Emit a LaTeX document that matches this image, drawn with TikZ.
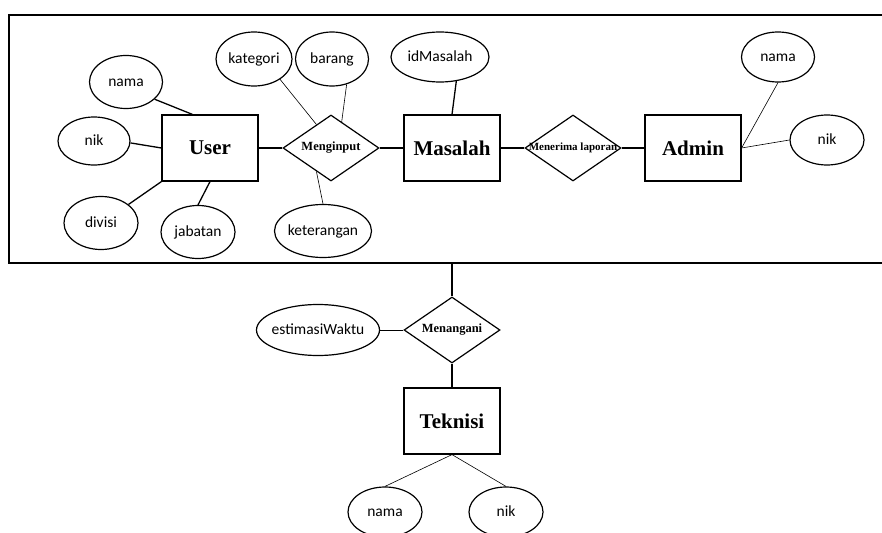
\documentclass[tikz,border=0pt]{standalone}
\usepackage{fontspec}
\setmainfont{Liberation Serif}
\newfontfamily\attrfont{Carlito}
\usetikzlibrary{shapes.geometric,calc}
\newcommand{\zw}[1]{\makebox[0pt]{#1}}

\begin{document}
\begin{tikzpicture}[x=1pt, y=-1pt,
    entity/.style={draw, line width=1.2pt, minimum width=96pt, minimum height=66pt, inner sep=0pt, font=\fontsize{21}{24}\selectfont\bfseries},
    relation/.style={draw, diamond, line width=1.2pt, minimum width=96pt, minimum height=66pt, inner sep=0pt, font=\fontsize{12.5}{14}\selectfont\bfseries},
    attr/.style={draw, ellipse, line width=1.2pt, inner sep=0pt, text height=12pt, text depth=3pt, font=\attrfont\fontsize{15.5}{18}\selectfont},
    strong/.style={line width=1.3pt},
    weak/.style={line width=0.6pt}]
    \useasboundingbox (0,0) rectangle (882,532);

    \draw[line width=1.2pt] (882,15) -- (9,15) -- (9,263) -- (882,263);
    \coordinate (boxbot) at (452,263);

    \node[entity] (user) at (210,148) {User};
    \node[entity] (masalah) at (452,148) {Masalah};
    \node[entity] (admin) at (693,148) {Admin};
    \node[entity] (teknisi) at (452,421) {Teknisi};

    \node[relation] (input) at (331,148) {\zw{Menginput}};
    \node[relation, font=\fontsize{11}{12}\selectfont\bfseries] (terima) at (573,148) {\zw{Menerima laporan}};
    \node[relation] (tangani) at (452,330) {\zw{Menangani}};

    \node[attr, minimum width=73pt, minimum height=53pt] (unama) at (126,82) {nama};
    \node[attr, minimum width=72pt, minimum height=48pt] (unik) at (94,141) {nik};
    \node[attr, minimum width=74pt, minimum height=53pt] (udivisi) at (101,223) {divisi};
    \node[attr, minimum width=74pt, minimum height=53pt] (ujabatan) at (198,232) {jabatan};
    \node[attr, minimum width=76pt, minimum height=54pt] (kategori) at (254,59) {kategori};
    \node[attr, minimum width=73pt, minimum height=54pt] (barang) at (332,59) {barang};
    \node[attr, minimum width=98pt, minimum height=50pt] (idmasalah) at (440,57) {\zw{idMasalah}};
    \node[attr, minimum width=97pt, minimum height=53pt] (keterangan) at (323,231) {\zw{keterangan}};
    \node[attr, minimum width=73pt, minimum height=50pt] (anama) at (778,57) {nama};
    \node[attr, minimum width=74pt, minimum height=50pt] (anik) at (827,140) {nik};
    \node[attr, minimum width=123pt, minimum height=51pt] (estimasi) at (318,330) {\zw{estimasiWaktu}};
    \node[attr, minimum width=74pt, minimum height=50pt] (tnama) at (385,512) {nama};
    \node[attr, minimum width=74pt, minimum height=50pt] (tnik) at (506,512) {nik};

    \path[strong]
      ([xshift=31pt]user.north west) edge (unama.-31)
      (user.west) edge (unik.-3)
      (user.south west) edge (udivisi.34)
      (user.south) edge (ujabatan.north)
      (user.east) edge (input.west)
      (input.east) edge (masalah.west)
      (masalah.north) edge (idmasalah.-56)
      (masalah.east) edge (terima.west)
      (terima.east) edge (admin.west)
      (boxbot) edge (tangani.north)
      (tangani.south) edge (teknisi.north)
      ;
    \path[weak]
      (kategori.-38) edge ($(input.north)!0.3!(input.west)$)
      (barang.-60) edge ($(input.north)!0.22!(input.east)$)
      ($(input.south)!0.3!(input.west)$) edge (keterangan.north)
      (admin.east) edge (anama.south)
      (admin.east) edge (anik.west)
      (estimasi.east) edge (tangani.west)
      (teknisi.south) edge (tnama.north)
      (teknisi.south) edge (tnik.north)
      ;
\end{tikzpicture}
\end{document}
